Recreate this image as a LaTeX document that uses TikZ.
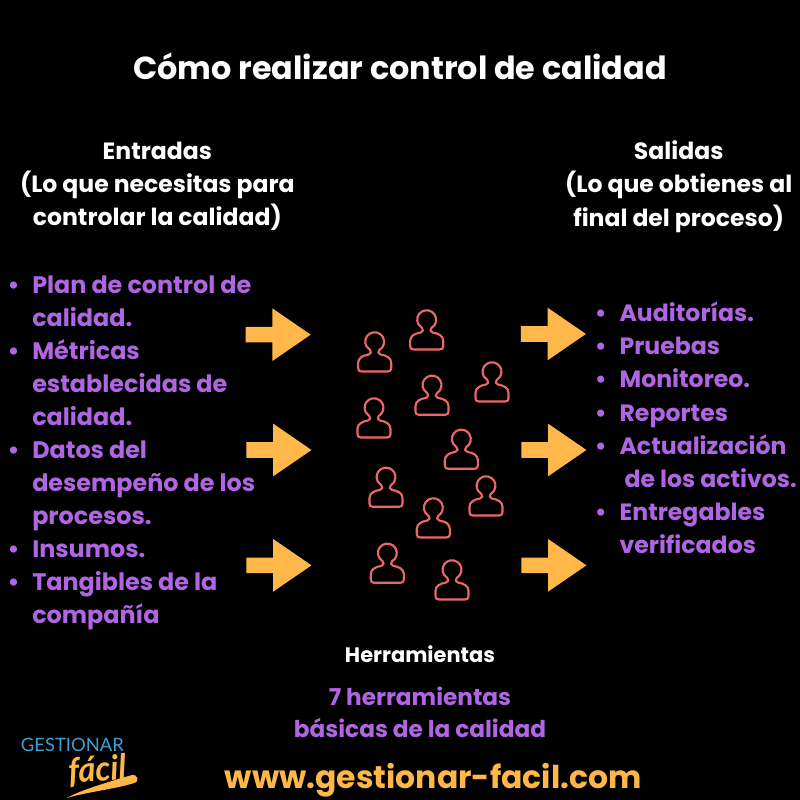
\documentclass[tikz,border=0pt]{standalone}
\usepackage{fontspec}
\setmainfont{Poppins}
\newfontfamily\logofont{Lato}
\usetikzlibrary{shapes.arrows}
\definecolor{listpurple}{RGB}{176,102,226}
\definecolor{arroworange}{RGB}{255,183,74}
\definecolor{personred}{RGB}{236,104,104}
\definecolor{logoblue}{RGB}{58,160,208}
\newcommand{\bul}{\makebox[18.5pt][l]{\textbullet}}
\newcommand{\ind}{\hspace*{18.5pt}}
\tikzset{
  titletext/.style={text=white, font=\fontsize{23.9}{30}\selectfont\bfseries, inner sep=0pt},
  headtext/.style={text=white, font=\fontsize{17.65}{24.8}\selectfont\bfseries, align=center, inner sep=0pt},
  listtext/.style={text=listpurple, font=\fontsize{17.9}{24.8}\selectfont\bfseries, align=left, anchor=north west, inner sep=0pt},
  bigarrow/.style={single arrow, fill=arroworange, inner sep=0pt, minimum height=48.75pt,
    single arrow head extend=13.9pt, single arrow tip angle=69},
  person/.pic={
    \draw[personred, line width=1.6pt, line join=round] (3.56,1.55) arc[start angle=300, end angle=600, radius=7.1]
      .. controls (-2.4,0) and (-2.4,-1.2) .. (-4.5,-1.9)
      .. controls (-9,-2.6) and (-12.4,-4.5) .. (-12.4,-8.2) -- (-12.4,-12)
      .. controls (-12.4,-13.9) and (-11.6,-14.6) .. (-9.8,-14.6) -- (9.8,-14.6)
      .. controls (11.6,-14.6) and (12.4,-13.9) .. (12.4,-12) -- (12.4,-8.2)
      .. controls (12.4,-4.5) and (9,-2.6) .. (4.5,-1.9)
      .. controls (2.4,-1.2) and (2.4,0) .. cycle;
  }
}
\begin{document}
\begin{tikzpicture}[x=1pt, y=1pt]
  \fill[black] (0,0) rectangle (600,600);
  \useasboundingbox (0,0) rectangle (600,600);

  % Title
  \node[titletext] (title) at (300,550.5) {Cómo realizar control de calidad};

  % Columns
  \node[headtext] (entradas) at (118,460) {Entradas\\(Lo que necesitas para\\controlar la calidad)};
  \node[headtext] (salidas) at (509,460) {Salidas\\(Lo que obtienes al\\final del proceso)};

  % Lists
  \node[listtext] (inlist) at (5.5,393.5) {\bul Plan de control de\\\ind calidad.\\\bul Métricas\\\ind establecidas de\\\ind calidad.\\\bul Datos del\\\ind desempeño de los\\\ind procesos.\\\bul Insumos.\\\bul Tangibles de la\\\ind compañía};
  \node[listtext, font=\fontsize{17.7}{24.8}\selectfont\bfseries] (outlist) at (446,373.5) {\bul Auditorías.\\\bul Pruebas\\\bul Monitoreo.\\\bul Reportes\\\bul Actualización\\\ind\ de los activos.\\\bul Entregables\\\ind verificados};

  % Arrows
  \node[bigarrow] (inarrowa) at (204.4,349) {\rule{0pt}{11.25pt}};
  \node[bigarrow] (inarrowb) at (205,262.5) {\rule{0pt}{11.25pt}};
  \node[bigarrow] (inarrowc) at (205,176) {\rule{0pt}{11.25pt}};
  \node[bigarrow] (outarrowa) at (410.8,349.5) {\rule{0pt}{11.25pt}};
  \node[bigarrow] (outarrowb) at (411.2,262.5) {\rule{0pt}{11.25pt}};
  \node[bigarrow] (outarrowc) at (411.2,176) {\rule{0pt}{11.25pt}};

  % People
  \pic at (320,352.5) {person};
  \pic at (281,336) {person};
  \pic at (324,303.5) {person};
  \pic at (369,313.5) {person};
  \pic at (280.5,286.5) {person};
  \pic at (346,263) {person};
  \pic at (289.5,234.5) {person};
  \pic at (364.5,228) {person};
  \pic at (325,211.5) {person};
  \pic at (290.5,177.5) {person};
  \pic at (339,165) {person};

  % Tools
  \node[text=white, font=\fontsize{15.7}{20}\selectfont\bfseries, inner sep=0pt] (herr) at (315,109) {Herramientas};
  \node[headtext, text=listpurple, font=\fontsize{17.4}{24.6}\selectfont\bfseries] (siete) at (315,65.8) {7 herramientas\\básicas de la calidad};

  % Logo
  \node[text=logoblue, font=\logofont\fontsize{13.8}{17}\selectfont, inner sep=0pt, anchor=west] (gestionar) at (15.5,41) {GESTIONAR};
  \node[text=arroworange, font=\logofont\fontsize{26}{26}\selectfont\itshape\bfseries, inner sep=0pt, xscale=0.95, rotate=4, anchor=base] (facil) at (74,14) {fácil};
  \fill[arroworange] (50,1.5) .. controls (62,8) and (80,13) .. (98,18.5) .. controls (104,20) and (105,13.5) .. (100,12.5) .. controls (85,8) and (65,6) .. cycle;

  % Web
  \node[text=arroworange, font=\fontsize{23.6}{30}\selectfont\bfseries, inner sep=0pt] (web) at (325,14.7) {www.gestionar-facil.com};
\end{tikzpicture}
\end{document}
